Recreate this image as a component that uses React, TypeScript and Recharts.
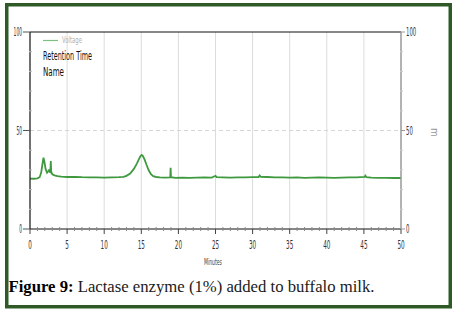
import React from "react";
import {
  LineChart,
  Line,
  XAxis,
  YAxis,
  ReferenceLine,
} from "recharts";

// retention time (minutes) and detector voltage
const minutes = [
  0, 0.5, 1.0, 1.3, 1.5, 1.7, 1.82, 1.95, 2.1, 2.3, 2.45, 2.55, 2.65, 2.75,
  2.8, 2.86, 3.0, 3.3, 3.7, 4.2, 5, 6, 7, 8, 9, 10, 11, 12, 12.6, 13, 13.5,
  14, 14.4, 14.7, 14.9, 15.05, 15.2, 15.45, 15.7, 16.0, 16.3, 16.6, 17.0,
  17.5, 18.2, 18.9, 18.95, 19.0, 19.6, 20.5, 21.5, 22.5, 23.5, 24.5, 25.0,
  25.15, 26, 27, 28, 29, 30, 30.8, 30.95, 31.1, 32, 33, 34, 35, 36, 37, 38,
  39, 40, 41, 42, 43, 44, 45.1, 45.2, 45.35, 46, 47, 48, 49, 50,
];
const voltage = [
  25.6, 25.5, 25.7, 26.3, 28.5, 33.5, 36.2, 34, 30.5, 28.6, 29.3, 29.8, 29.0,
  28.8, 34.5, 29, 27.8, 27.2, 26.8, 26.6, 26.4, 26.5, 26.3, 26.2, 26.2, 26.1,
  26.2, 26.3, 26.5, 27, 28.2, 30.5, 33.2, 35.6, 37.0, 37.6, 37.1, 35.2, 32.6,
  29.8, 27.8, 26.8, 26.4, 26.2, 26.1, 26.2, 31.1, 26.3, 26.0, 26.1, 26.0,
  26.1, 26.2, 26.1, 27.0, 26.3, 26.2, 26.1, 26.2, 26.2, 26.3, 26.4, 27.2,
  26.5, 26.4, 26.2, 26.2, 26.1, 26.2, 26.0, 26.1, 26.2, 26.1, 26.0, 26.1,
  26.2, 26.2, 26.4, 27.1, 26.3, 26.1, 26.0, 26.0, 25.9, 25.9,
];

const xTicks = Array.from({ length: 51 }, (_, i) => i);
const yTicks = [0, 10, 20, 30, 40, 50, 60, 70, 80, 90, 100];
const gridMinutes = [5, 10, 15, 20, 25, 30, 35, 40, 45];

const data = minutes.map((t, i) => ({ t, v: voltage[i] }));

const narrow = "'Liberation Sans Narrow', 'DejaVu Sans Condensed', sans-serif";

const XTick = (props: any) => {
  const { x, y, payload } = props;
  const v = payload.value;
  const major = v % 5 === 0;
  const label = String(v);
  return (
    <g>
      <line
        x1={x}
        x2={x}
        y1={major ? y : y - 2}
        y2={major ? y + 5 : y + 2}
        stroke={major ? "#444" : "#888"}
        strokeWidth={1}
      />
      {major && (
        <text
          x={x}
          y={y + 20}
          textAnchor="middle"
          fontFamily={narrow}
          fontSize={12}
          fill="#333"
          textLength={label.length * 3.6}
          lengthAdjust="spacingAndGlyphs"
        >
          {label}
        </text>
      )}
    </g>
  );
};

const LeftTick = (props: any) => {
  const { x, y, payload } = props;
  const v = payload.value;
  const major = v % 50 === 0;
  const label = String(v);
  return (
    <g>
      <line
        x1={major ? x - 7 : x - 1}
        x2={major ? x : x + 2}
        y1={y}
        y2={y}
        stroke={major ? "#555" : "#bbb"}
        strokeWidth={1}
      />
      {major && (
        <text
          x={x - 8}
          y={y + 4}
          textAnchor="end"
          fontFamily={narrow}
          fontSize={12}
          fill="#333"
          textLength={label.length * 2.8}
          lengthAdjust="spacingAndGlyphs"
        >
          {label}
        </text>
      )}
    </g>
  );
};

const RightTick = (props: any) => {
  const { x, y, payload } = props;
  const v = payload.value;
  const major = v % 50 === 0;
  const label = String(v);
  return (
    <g>
      <line
        x1={major ? x : x - 1}
        x2={major ? x + 4 : x + 2}
        y1={y}
        y2={y}
        stroke={major ? "#999" : "#ccc"}
        strokeWidth={1}
      />
      {major && (
        <text
          x={x + 5}
          y={y + 4}
          textAnchor="start"
          fontFamily={narrow}
          fontSize={12}
          fill="#333"
          textLength={label.length * 3.4}
          lengthAdjust="spacingAndGlyphs"
        >
          {label}
        </text>
      )}
    </g>
  );
};

export default function App() {
  return (
    <div
      style={{
        position: "absolute",
        left: 0,
        top: 0,
        width: 459,
        height: 313,
        background: "#fff",
      }}
    >
      <LineChart
        width={459}
        height={313}
        data={data}
        margin={{ top: 32, right: 0, bottom: 44, left: 0 }}
        style={{ position: "absolute", left: 0, top: 0 }}
      >
        <XAxis
          type="number"
          dataKey="t"
          domain={[0, 50]}
          ticks={xTicks}
          interval={0}
          height={40}
          tickSize={0}
          tickMargin={0}
          tickLine={false}
          tick={<XTick />}
          axisLine={{ stroke: "#111", strokeWidth: 1.2 }}
        />
        <YAxis
          yAxisId="left"
          domain={[0, 100]}
          ticks={yTicks}
          interval={0}
          width={30}
          tickSize={0}
          tickMargin={0}
          tickLine={false}
          tick={<LeftTick />}
          axisLine={{ stroke: "#111", strokeWidth: 1.2 }}
        />
        <YAxis
          yAxisId="right"
          orientation="right"
          domain={[0, 100]}
          ticks={yTicks}
          interval={0}
          width={58}
          tickSize={0}
          tickMargin={0}
          tickLine={false}
          tick={<RightTick />}
          axisLine={{ stroke: "#999", strokeWidth: 1.5 }}
        />
        {gridMinutes.map((m) => (
          <ReferenceLine
            key={m}
            yAxisId="left"
            x={m}
            stroke="#dcdcdc"
            strokeWidth={1}
          />
        ))}
        <ReferenceLine
          yAxisId="left"
          y={50}
          stroke="#d6d6d6"
          strokeDasharray="4 3"
        />
        <ReferenceLine yAxisId="left" y={100} stroke="#111" strokeWidth={1.2} />
        <Line
          yAxisId="right"
          type="linear"
          dataKey="v"
          stroke="none"
          dot={false}
          isAnimationActive={false}
        />
        <Line
          yAxisId="left"
          type="linear"
          dataKey="v"
          stroke="#3f9a3f"
          strokeWidth={1.8}
          dot={false}
          isAnimationActive={false}
        />
      </LineChart>
      <svg
        width={459}
        height={313}
        style={{ position: "absolute", left: 0, top: 0, pointerEvents: "none" }}
      >
        <rect
          x={6.75}
          y={4.75}
          width={443.5}
          height={302}
          fill="none"
          stroke="#2f5a28"
          strokeWidth={3.5}
        />
        <line x1={43} x2={58} y1={40.5} y2={40.5} stroke="#7fbf7f" strokeWidth={1.2} />
        <text
          x={62}
          y={43}
          fontFamily={narrow}
          fontSize={8}
          fill="#b0b0b0"
          textLength={20}
          lengthAdjust="spacingAndGlyphs"
        >
          Voltage
        </text>
        <text
          x={43}
          y={60}
          fontFamily={narrow}
          fontSize={11.5}
          fill="#111"
          textLength={49}
          lengthAdjust="spacingAndGlyphs"
        >
          Retention Time
        </text>
        <text
          x={43}
          y={76}
          fontFamily={narrow}
          fontSize={11.5}
          fill="#111"
          textLength={21}
          lengthAdjust="spacingAndGlyphs"
        >
          Name
        </text>
        <text
          x={213}
          y={265}
          textAnchor="middle"
          fontFamily={narrow}
          fontSize={9}
          fill="#444"
          textLength={18}
          lengthAdjust="spacingAndGlyphs"
        >
          Minutes
        </text>
        <text
          x={431}
          y={128}
          fontFamily={narrow}
          fontSize={10}
          fill="#999"
          transform="rotate(90 431 128)"
        >
          m
        </text>
        <text
          x={8.5}
          y={292}
          fontFamily="'Liberation Serif', serif"
          fontSize={16}
          fill="#1a1a1a"
          textLength={366}
          lengthAdjust="spacingAndGlyphs"
        >
          <tspan fontWeight="bold" fill="#000">
            Figure 9:
          </tspan>{" "}
          Lactase enzyme (1%) added to buffalo milk.
        </text>
      </svg>
    </div>
  );
}
